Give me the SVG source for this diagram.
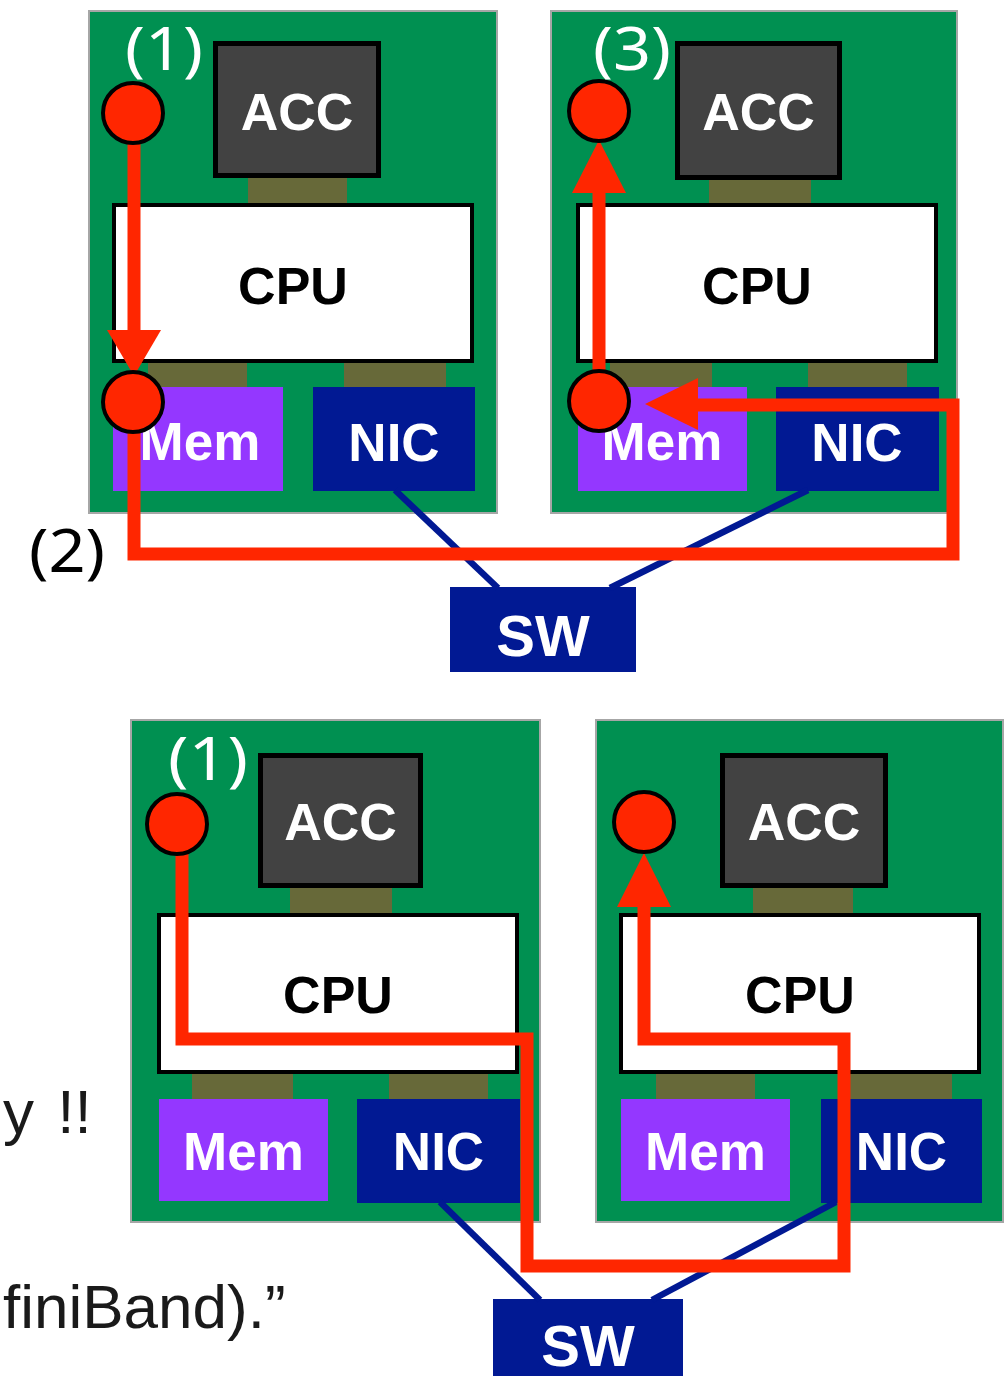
<svg xmlns="http://www.w3.org/2000/svg" width="1007" height="1376" viewBox="0 0 1007 1376">
<style>
.board{fill:#009051;stroke:#a6a6a6;stroke-width:2}
.acc{fill:#424242;stroke:#000;stroke-width:5}
.cpu{fill:#fff;stroke:#000;stroke-width:4}
.bus{fill:#676939}
.mem{fill:#9437FF}
.nic{fill:#011993}
.sw{fill:#011993}
.lbl{font-family:"Liberation Sans",Arial,sans-serif;font-weight:bold;text-anchor:middle}
.w{fill:#fff}
.k{fill:#000}
.link{stroke:#011993;stroke-width:6.5;fill:none}
.path{stroke:#FF2600;stroke-width:13;fill:none;stroke-linejoin:miter}
.head{fill:#FF2600}
.dot{fill:#FF2600;stroke:#000;stroke-width:4}
.step{font-family:"Noto Sans","DejaVu Sans",sans-serif;font-size:60px}
.side{font-family:"Liberation Sans",Arial,sans-serif;font-size:62px;fill:#1a1a1a}
</style>

<!-- top-left node -->
<g id="node-top-left">
<rect class="board" x="89" y="11" width="408" height="502"/>
<rect class="bus" x="248" y="176" width="99" height="29"/>
<rect class="bus" x="148" y="361" width="99" height="27"/>
<rect class="bus" x="344" y="361" width="102" height="27"/>
<rect class="acc" x="215.5" y="43.5" width="163" height="132"/>
<text class="lbl w" x="297" y="130" font-size="52">ACC</text>
<rect class="cpu" x="114" y="205" width="358" height="156"/>
<text class="lbl k" x="293" y="304" font-size="52">CPU</text>
<rect class="mem" x="113" y="387" width="170" height="104"/>
<text class="lbl w" x="200" y="460" font-size="53">Mem</text>
<rect class="nic" x="313" y="387" width="162" height="104"/>
<text class="lbl w" x="394" y="461" font-size="53">NIC</text>
</g>

<!-- top-right node -->
<g id="node-top-right">
<rect class="board" x="551" y="11" width="406" height="502"/>
<rect class="bus" x="709" y="176" width="102" height="29"/>
<rect class="bus" x="610" y="361" width="102" height="27"/>
<rect class="bus" x="808" y="361" width="99" height="27"/>
<rect class="acc" x="677.5" y="43.5" width="162" height="134"/>
<text class="lbl w" x="758.5" y="130" font-size="52">ACC</text>
<rect class="cpu" x="578" y="205" width="358" height="156"/>
<text class="lbl k" x="757" y="304" font-size="52">CPU</text>
<rect class="mem" x="578" y="387" width="169" height="104"/>
<text class="lbl w" x="662" y="460" font-size="53">Mem</text>
<rect class="nic" x="776" y="387" width="163" height="104"/>
<text class="lbl w" x="857" y="461" font-size="53">NIC</text>
</g>

<!-- top switch -->
<g id="switch-top">
<rect class="sw" x="450" y="587" width="186" height="85"/>
<text class="lbl w" x="543" y="656" font-size="58">SW</text>
</g>

<!-- bottom-left node -->
<g id="node-bottom-left">
<rect class="board" x="131" y="720" width="409" height="502"/>
<rect class="bus" x="290" y="886" width="102" height="29"/>
<rect class="bus" x="192" y="1072" width="101" height="27"/>
<rect class="bus" x="389" y="1072" width="99" height="27"/>
<rect class="acc" x="260.5" y="755.5" width="160" height="130"/>
<text class="lbl w" x="340.5" y="840" font-size="52">ACC</text>
<rect class="cpu" x="159" y="915" width="358" height="157"/>
<text class="lbl k" x="338" y="1013" font-size="52">CPU</text>
<rect class="mem" x="159" y="1099" width="169" height="102"/>
<text class="lbl w" x="243.5" y="1170" font-size="53">Mem</text>
<rect class="nic" x="357" y="1099" width="163" height="104"/>
<text class="lbl w" x="438.5" y="1170" font-size="53">NIC</text>
</g>

<!-- bottom-right node -->
<g id="node-bottom-right">
<rect class="board" x="596" y="720" width="407" height="502"/>
<rect class="bus" x="753" y="886" width="100" height="29"/>
<rect class="bus" x="656" y="1072" width="99" height="27"/>
<rect class="bus" x="850" y="1072" width="102" height="27"/>
<rect class="acc" x="722.5" y="755.5" width="163" height="130"/>
<text class="lbl w" x="804" y="840" font-size="52">ACC</text>
<rect class="cpu" x="621" y="915" width="358" height="157"/>
<text class="lbl k" x="800" y="1013" font-size="52">CPU</text>
<rect class="mem" x="621" y="1099" width="169" height="102"/>
<text class="lbl w" x="705.5" y="1170" font-size="53">Mem</text>
<rect class="nic" x="821" y="1099" width="161" height="104"/>
<text class="lbl w" x="901.5" y="1170" font-size="53">NIC</text>
</g>

<!-- bottom switch -->
<g id="switch-bottom">
<rect class="sw" x="493" y="1299" width="190" height="80"/>
<text class="lbl w" x="588" y="1366" font-size="58">SW</text>
</g>

<!-- connectors -->
<g id="connectors">
<line class="link" x1="395" y1="490" x2="498" y2="588"/>
<line class="link" x1="808" y1="490" x2="610" y2="588"/>
<line class="link" x1="440" y1="1202" x2="540" y2="1300"/>
<line class="link" x1="836" y1="1202" x2="652" y2="1300"/>

<path class="path" d="M134 113 V332"/>
<polygon class="head" points="107,330 161,330 134,376"/>
<path class="path" d="M134 402 V554 H953 V405 H696"/>
<polygon class="head" points="698,378 698,430 645,404"/>
<path class="path" d="M599 401 V191"/>
<polygon class="head" points="572,193 626,193 599,140"/>

<path class="path" d="M182 830 V1039 H527 V1266 H844 V1039 H644 V905"/>
<polygon class="head" points="617,907 671,907 644,853"/>
</g>

<!-- event markers -->
<g id="markers">
<circle class="dot" cx="133" cy="113" r="30"/>
<circle class="dot" cx="133" cy="402" r="30"/>
<circle class="dot" cx="599" cy="111" r="30"/>
<circle class="dot" cx="599" cy="401" r="30"/>
<circle class="dot" cx="177" cy="824" r="30"/>
<circle class="dot" cx="644" cy="822" r="30"/>
</g>

<!-- step labels -->
<g id="labels">
<text class="step" x="125" y="70" fill="#fff" textLength="78" lengthAdjust="spacingAndGlyphs">(1)</text>
<text class="step" x="593" y="70" fill="#fff" textLength="78" lengthAdjust="spacingAndGlyphs">(3)</text>
<text class="step" x="29" y="572" fill="#000" textLength="76" lengthAdjust="spacingAndGlyphs">(2)</text>
<text class="step" x="168" y="780" fill="#fff" textLength="80" lengthAdjust="spacingAndGlyphs">(1)</text>
</g>

<!-- cut-off slide text -->
<g id="side-text">
<text class="side" x="3" y="1133" word-spacing="6">y !!</text>
<text class="side" x="3" y="1328">finiBand).”</text>
</g>
</svg>
